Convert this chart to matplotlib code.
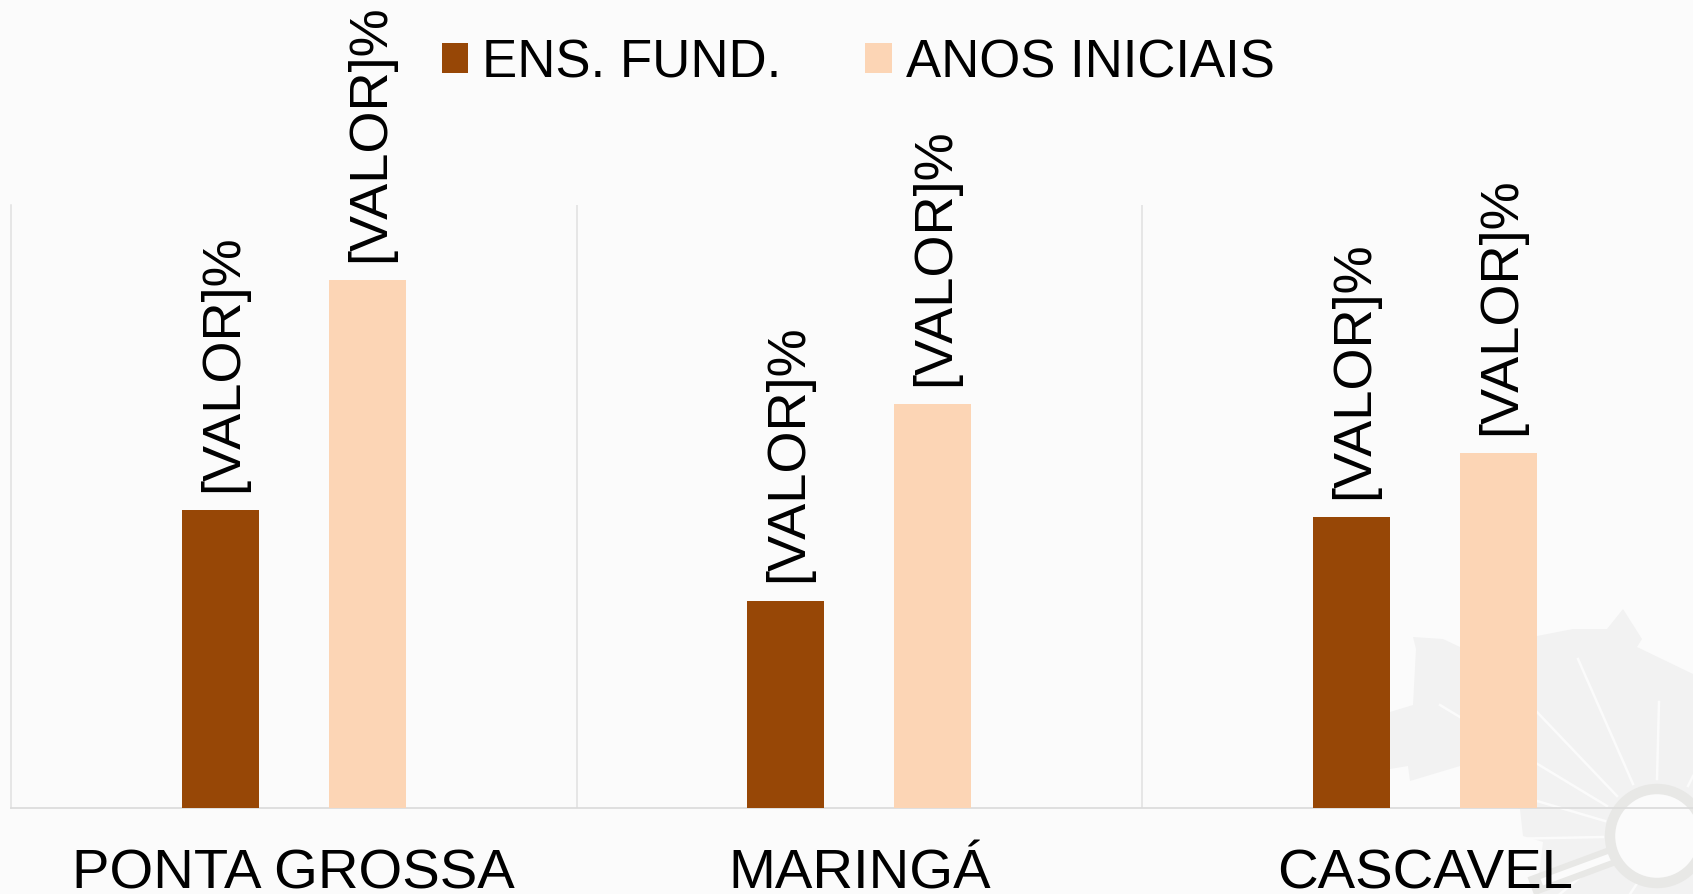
import numpy as np
import matplotlib
matplotlib.use('Agg')
import matplotlib.pyplot as plt
from matplotlib.patches import Polygon, Circle
from matplotlib.lines import Line2D
from matplotlib.transforms import IdentityTransform

cidades = ['PONTA GROSSA', 'MARINGÁ', 'CASCAVEL']
ens_fund = [34.5, 24.0, 33.7]
anos_iniciais = [61.2, 46.8, 41.1]
rotulo = '[VALOR]%'

W, H = 1693, 895
plt.rcParams['font.family'] = ['Liberation Sans', 'DejaVu Sans']

fig = plt.figure(figsize=(W / 100, H / 100), dpi=100, facecolor='#FBFBFB')
ax = fig.add_axes([11 / W, (H - 808.5) / H, 1 - 11 / W, 603 / H])
ax.set_facecolor('none')

# marca d'agua no canto (coordenadas em pixels da imagem)
def px(pts):
    return [(x, H - y) for x, y in pts]

mapa = [(1390, 713), (1413, 706), (1416, 650), (1413, 638), (1443, 640), (1460, 648),
        (1537, 637), (1573, 630), (1607, 630), (1623, 610), (1642, 640), (1637, 648),
        (1693, 675), (1693, 895), (1537, 895), (1543, 843), (1523, 837), (1520, 810),
        (1460, 767), (1410, 782), (1408, 767), (1390, 770)]
fig.add_artist(Polygon(px(mapa), closed=True, fc='#F2F2F2', ec='none', zorder=-3,
                       transform=IdentityTransform()))
raios = [((1578, 660), (1633, 785)), ((1659, 703), (1657, 780)), ((1537, 713), (1617, 797)),
         ((1440, 706), (1607, 807)), ((1537, 802), (1605, 822)), ((1503, 840), (1603, 838)),
         ((1688, 787), (1693, 777)), ((1590, 870), (1560, 895)), ((1640, 880), (1630, 895))]
for a, b in raios:
    fig.add_artist(Line2D([a[0], b[0]], [H - a[1], H - b[1]], color='#FBFBFB', lw=1.8,
                          zorder=-2, transform=IdentityTransform()))
fig.add_artist(Line2D([1540, 1610], [H - 884, H - 858], color='#E8E8E6', lw=14, zorder=-2,
                      transform=IdentityTransform()))
fig.add_artist(Line2D([1545, 1610], [H - 882, H - 858], color='#FBFBFB', lw=5, zorder=-2,
                      transform=IdentityTransform()))
fig.add_artist(Circle((1657, H - 837), 47, fc='#FBFBFB', ec='#E8E8E6', lw=7.5, zorder=-2,
                      transform=IdentityTransform()))

x = np.arange(len(cidades))
largura = 0.136
b1 = ax.bar(x - 0.13, ens_fund, largura, color='#974706', label='ENS. FUND.', zorder=3)
b2 = ax.bar(x + 0.13, anos_iniciais, largura, color='#FCD5B5', label='ANOS INICIAIS', zorder=3)
for b in (b1, b2):
    anotacoes = ax.bar_label(b, labels=[rotulo] * len(cidades), rotation=90, fontsize=39,
                             padding=14, color='black', clip_on=False)
    for an in anotacoes:
        an.xyann = (2, 14)

ax.set_xlim(-0.5, -0.5 + (W - 11) / 565.5)
ax.set_ylim(0, 70)
ax.set_yticks([])
ax.set_xticks(x)
ax.set_xticklabels(cidades, fontsize=40.5, color='black')
ax.set_xticks(x[:-1] + 0.5, minor=True)
ax.tick_params(axis='x', which='both', length=0, pad=29)
ax.grid(axis='x', which='minor', color='#E0E0E0', lw=1.1, zorder=0)
ax.spines['top'].set_visible(False)
ax.spines['right'].set_visible(False)
ax.spines['left'].set_color('#E0E0E0')
ax.spines['bottom'].set_color('#DCDCDC')
ax.spines['left'].set_linewidth(1.1)
ax.spines['bottom'].set_linewidth(1.3)

fig.legend(handles=[b1, b2], ncol=2, frameon=False, fontsize=38, loc='center',
           bbox_to_anchor=(858 / W, (H - 64) / H), handlelength=0.5, handleheight=0.5,
           handletextpad=0.26, columnspacing=1.6, borderpad=0, labelcolor='black')

fig.savefig('out.png', dpi=100, facecolor=fig.get_facecolor())
